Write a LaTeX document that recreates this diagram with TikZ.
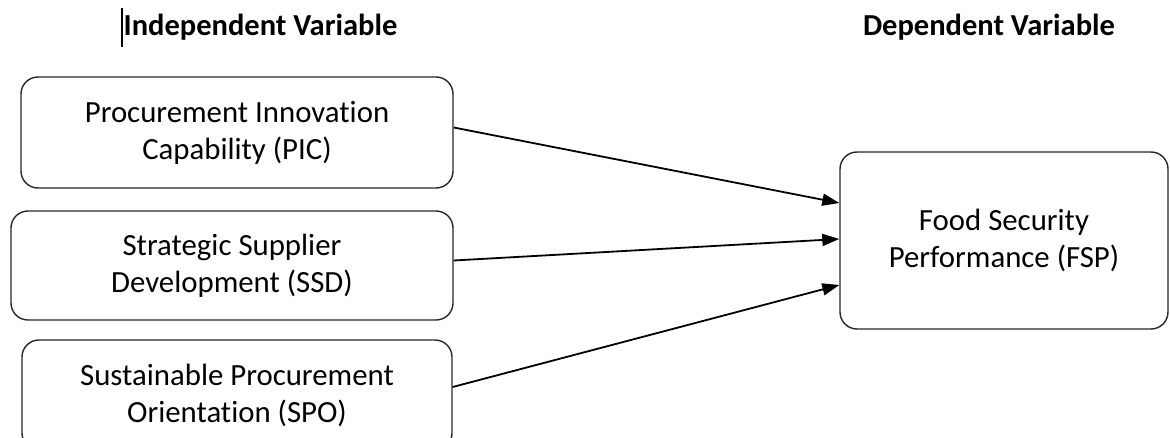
\documentclass[tikz,border=0pt]{standalone}
\usepackage{fontspec}
\setmainfont{Carlito}[RawFeature={-liga}]
\usetikzlibrary{arrows.meta}
\begin{document}
\begin{tikzpicture}[x=1pt,y=-1pt,
  varbox/.style={draw=black!85,line width=1.4pt,rounded corners=17pt,align=center,
    font=\fontsize{30.8}{37}\selectfont,inner sep=0pt},
  header/.style={font=\fontsize{30.5}{34}\selectfont\bfseries},
  link/.style={line width=1.8pt,-{Triangle[length=17pt,width=12pt]}}]
\useasboundingbox (0,0) rectangle (1170,438);
\begin{scope}
\clip (0,0) rectangle (1170,438);
\node[header] (ih) at (260.5,27) {Independent Variable};
\node[header] (dh) at (989,27) {Dependent Variable};
\coordinate (c1) at (122,8);
\coordinate (c2) at (122,47);
\draw[line width=1.3pt] (c1) -- (c2);
\node[varbox,minimum width=432pt,minimum height=111pt] (pic) at (237,132.5)
  {Procurement Innovation\\Capability (PIC)};
\node[varbox,minimum width=442pt,minimum height=109pt] (ssd) at (232,265.5)
  {Strategic Supplier\\Development (SSD)};
\node[varbox,minimum width=430pt,minimum height=110pt] (spo) at (237,395)
  {Sustainable Procurement\\Orientation (SPO)};
\node[varbox,minimum width=328pt,minimum height=177pt] (fsp) at (1004,240.5)
  {Food Security\\Performance (FSP)};
\draw[link] ([yshift=5pt]pic.east) -- ([yshift=37.5pt]fsp.west);
\draw[link] ([yshift=5pt]ssd.east) -- ([yshift=1.5pt]fsp.west);
\draw[link] ([yshift=8pt]spo.east) -- ([yshift=-44.5pt]fsp.west);
\end{scope}
\end{tikzpicture}
\end{document}
